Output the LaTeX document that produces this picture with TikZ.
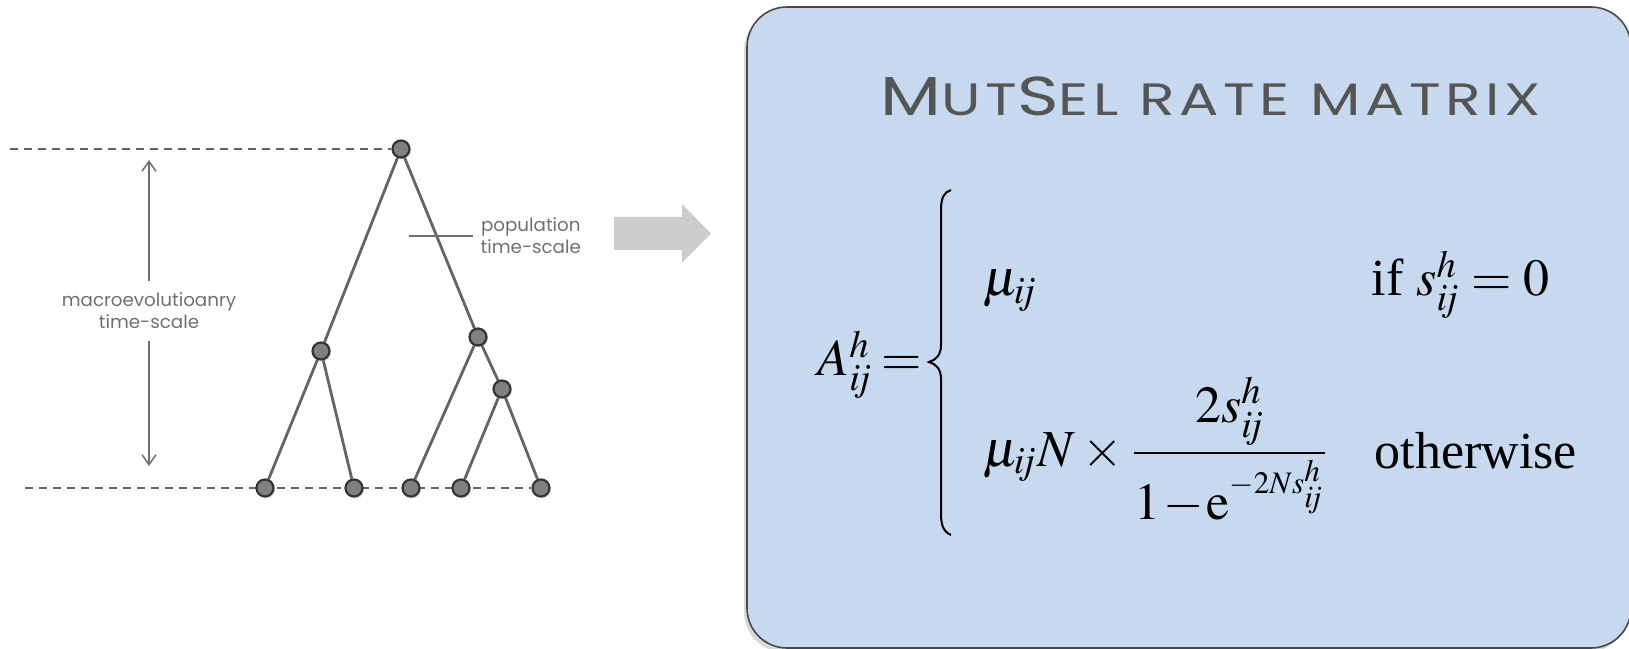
\documentclass[tikz,border=0pt]{standalone}
\usepackage{amsmath}
\usepackage{mathptmx}
\usepackage{graphicx}
\usepackage[no-math]{fontspec}
\setmainfont{Liberation Serif}
\newfontfamily\gothicfont{Poppins}
\usetikzlibrary{arrows.meta, backgrounds, shadows}
\definecolor{boxblue}{RGB}{199,217,238}
\definecolor{boxline}{RGB}{72,72,72}
\definecolor{treegray}{RGB}{100,100,100}
\definecolor{nodegray}{RGB}{128,128,128}
\definecolor{nodeline}{RGB}{52,52,52}
\definecolor{labelgray}{RGB}{112,112,112}
\definecolor{titlegray}{RGB}{85,85,85}
\definecolor{arrowgray}{RGB}{205,205,205}
\newcommand{\capbig}{\fontsize{15.6}{15}\selectfont}
\newcommand{\capsmall}{\fontsize{12.9}{15}\selectfont}
\newcommand{\ijx}{i\mkern-3mu j}

\begin{document}
\begin{tikzpicture}[x=0.1mm, y=-0.1mm,
    tnode/.style={circle, draw=nodeline, fill=nodegray, line width=0.22mm,
                  minimum size=1.7mm, inner sep=0pt,
                  drop shadow={opacity=0.25, shadow xshift=0.15mm, shadow yshift=-0.2mm}},
    branch/.style={treegray, line width=0.28mm},
    guide/.style={treegray, line width=0.16mm, dash pattern=on 0.8mm off 0.6mm},
    marr/.style={-{Straight Barb[length=1mm,width=1.4mm]}, labelgray, line width=0.15mm},
    lbl/.style={font=\gothicfont\fontsize{5.2}{6.3}\selectfont, text=labelgray, align=center},
    mth/.style={font=\fontsize{14.8}{18}\selectfont, anchor=base west, inner sep=0pt}
]
  \useasboundingbox (0,0) rectangle (1629,649);

  % Rate matrix panel
  \draw[boxline, fill=boxblue, line width=0.16mm, rounded corners=4mm,
        drop shadow={opacity=0.3, shadow xshift=-0.3mm, shadow yshift=-0.4mm}]
       (747,7) rectangle (1631,648);
  \node[anchor=base, text=titlegray, font=\gothicfont, inner sep=0pt] (ttl) at (1211,116)
       {\scalebox{1.29}[1]{\addfontfeature{LetterSpace=8}\capbig M\capsmall UT\capbig S\capsmall EL RATE MATRIX}};

  % Tree
  \node[tnode] (root) at (401,149) {};
  \node[tnode] (lft)  at (321,351) {};
  \node[tnode] (rgt)  at (478,337) {};
  \node[tnode] (rsub) at (502,389) {};
  \node[tnode] (leafa) at (265,488) {};
  \node[tnode] (leafb) at (354,488) {};
  \node[tnode] (leafc) at (411,488) {};
  \node[tnode] (leafd) at (461,488) {};
  \node[tnode] (leafe) at (541,488) {};
  \coordinate (topend) at (10,149);
  \coordinate (botend) at (25,488);

  \begin{scope}[on background layer]
    \draw[guide] (topend) -- (root);
    \draw[guide] (botend) -- (leafe);
    \draw[branch] (root) -- (lft);
    \draw[branch] (root) -- (rgt);
    \draw[branch] (lft) -- (leafa);
    \draw[branch] (lft) -- (leafb);
    \draw[branch] (rgt) -- (leafc);
    \draw[branch] (rgt) -- (rsub);
    \draw[branch] (rsub) -- (leafd);
    \draw[branch] (rsub) -- (leafe);
  \end{scope}

  % Time-scale labels
  \node[lbl, inner ysep=1.1mm] (macro) at (149,311) {macroevolutioanry\\time-scale};
  \coordinate (mtop) at (149,160);
  \coordinate (mbot) at (149,466);
  \draw[marr] (macro.north) -- (mtop);
  \draw[marr] (macro.south) -- (mbot);

  \node[lbl, anchor=west, inner xsep=0.7mm] (pop) at (473,236) {population\\time-scale};
  \coordinate (popend) at (409,236);
  \draw[labelgray, line width=0.2mm] (popend) -- (pop.west);

  % Block arrow
  \fill[arrowgray] (614,217) -- (682,217) -- (682,204) -- (711,233.5)
       -- (682,263) -- (682,250) -- (614,250) -- cycle;

  % Formula
  \node[mth] (lhs) at (817,376) {$A_{\ijx}^{h}\mkern-1mu=$};
  \draw[black, line width=0.2mm] (951,190) .. controls (944,192) and (941,198) .. (941,210)
       -- (941,345) .. controls (941,355) and (936,360) .. (929,362)
       .. controls (936,364) and (941,369) .. (941,379)
       -- (941,514) .. controls (941,526) and (944,532) .. (951,535);
  \node[mth] (mua) at (982,296) {$\mu_{\ijx}$};
  \node[mth] (conda) at (1371,296) {if $s_{\ijx}^{h} = 0$};
  \node[mth] (mub) at (982,466) {$\mu_{\ijx}N \times
       \dfrac{2s_{\ijx}^{h}}{1\mkern1mu{-}\mkern1mu\mathrm{e}^{\scriptscriptstyle -2Ns_{\ijx}^{h}}}$};
  \node[mth] (condb) at (1374,468) {otherwise};
\end{tikzpicture}
\end{document}
